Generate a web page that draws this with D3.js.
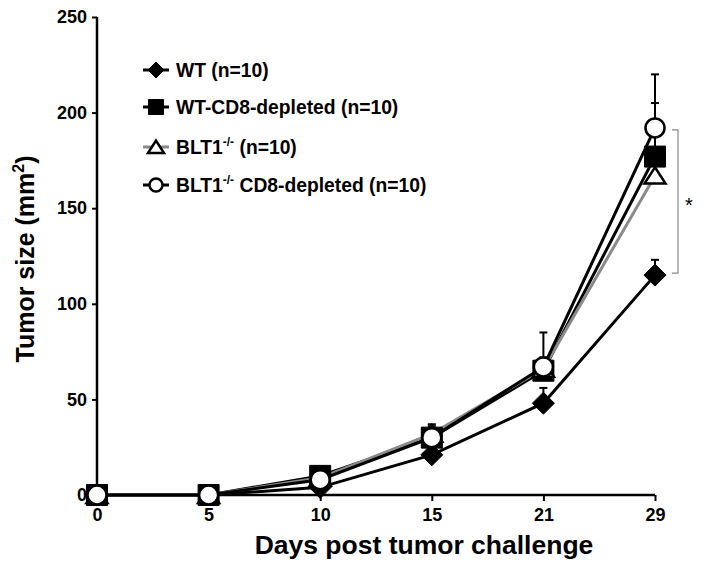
<!DOCTYPE html>
<html><head><meta charset="utf-8">
<script src="https://cdn.jsdelivr.net/npm/d3@7/dist/d3.min.js"></script>
<style>body{margin:0;background:#fff}text{font-family:"Liberation Sans",Arial,sans-serif;font-weight:bold}</style>
</head><body><svg id="c" width="708" height="577"></svg>
<script>
const days = ["0","5","10","15","21","29"];
const yTicks = [0,50,100,150,200,250];
const seriesNames = ["WT", "WT-CD8", "BLT1", "BLT1-CD8"];
const wtVals = [0,0,4,21,48,115];
const wtErr = [0,0,1,3,8,8];
const wtCd8Vals = [0,0,10,30,65,177];
const wtCd8Err = [0,0,2,4,6,28];
const bltVals = [0,0,9,32,66,167];
const bltErr = [0,0,2,4,6,10];
const bltCd8Vals = [0,0,8,30,67,192];
const bltCd8Err = [0,0,2,7,18,28];
const legendLabels = ["WT (n=10)", "WT-CD8-depleted (n=10)", "BLT1", "BLT1"];

const series = [
  {name: seriesNames[0], vals: wtVals, err: wtErr, shape: "diamond", line: "#000", fill: "#000"},
  {name: seriesNames[1], vals: wtCd8Vals, err: wtCd8Err, shape: "square", line: "#000", fill: "#000"},
  {name: seriesNames[2], vals: bltVals, err: bltErr, shape: "triangle", line: "#8a8a8a", fill: "#fff"},
  {name: seriesNames[3], vals: bltCd8Vals, err: bltCd8Err, shape: "circle", line: "#000", fill: "#fff"}
];

const svg = d3.select("#c");
const x = d3.scalePoint().domain(days).range([97, 655]);
const y = d3.scaleLinear().domain([0, 250]).range([495, 17]);

// axes
const yAxis = svg.append("g").attr("transform", "translate(97,0)")
  .call(d3.axisLeft(y).tickValues(yTicks).tickSize(5).tickPadding(5));
const xAxis = svg.append("g").attr("transform", "translate(0,495)")
  .call(d3.axisBottom(x).tickSize(6).tickPadding(7));
[yAxis, xAxis].forEach(a => {
  a.select(".domain").attr("stroke", "#000").attr("stroke-width", 2.5);
  a.selectAll(".tick line").attr("stroke", "#000").attr("stroke-width", 2);
  a.selectAll(".tick text").attr("fill", "#000").style("font-size", "18px")
    .style("font-family", '"Liberation Sans",Arial,sans-serif').style("font-weight", "bold");
});
yAxis.select(".domain").attr("d", "M0,17V495");
xAxis.select(".domain").attr("d", "M97,0H655");

// titles
const yt = svg.append("text").attr("transform", "translate(34,259) rotate(-90)")
  .attr("text-anchor", "middle").style("font-size", "25px");
yt.append("tspan").text("Tumor size (mm");
yt.append("tspan").attr("dy", -10).style("font-size", "16px").text("2");
yt.append("tspan").attr("dy", 10).text(")");
svg.append("text").attr("x", 424).attr("y", 554).attr("text-anchor", "middle")
  .style("font-size", "26.5px").text("Days post tumor challenge");

function shapePath(shape, s) {
  const h = s / 2;
  if (shape === "diamond") return `M0,${-h}L${h},0L0,${h}L${-h},0Z`;
  if (shape === "square") return `M${-h},${-h}H${h}V${h}H${-h}Z`;
  if (shape === "triangle") return `M0,${-h*0.8}L${h},${h*0.75}L${-h},${h*0.75}Z`;
  return null;
}
function drawMarker(g, d, cx, cy, size) {
  if (d.shape === "circle") {
    g.append("circle").attr("cx", cx).attr("cy", cy).attr("r", size / 2)
      .attr("fill", "#fff").attr("stroke", "#000").attr("stroke-width", 2.5);
  } else {
    g.append("path").attr("d", shapePath(d.shape, size))
      .attr("transform", `translate(${cx},${cy})`)
      .attr("fill", d.fill).attr("stroke", "#000").attr("stroke-width", d.shape === "triangle" ? 2.5 : 1);
  }
}

// error bars
series.forEach(d => {
  d.vals.forEach((v, i) => {
    if (!d.err[i]) return;
    const g = svg.append("g");
    g.append("line").attr("x1", x(days[i])).attr("x2", x(days[i]))
      .attr("y1", y(v)).attr("y2", y(v + d.err[i])).attr("stroke", "#000").attr("stroke-width", 2);
    g.append("line").attr("x1", x(days[i]) - 4).attr("x2", x(days[i]) + 4)
      .attr("y1", y(v + d.err[i])).attr("y2", y(v + d.err[i])).attr("stroke", "#000").attr("stroke-width", 2);
  });
});

// lines
const line = d3.line().x((v, i) => x(days[i])).y(v => y(v));
series.forEach(d => {
  svg.append("path").attr("d", line(d.vals)).attr("fill", "none")
    .attr("stroke", d.line).attr("stroke-width", 3);
});
// markers
series.forEach(d => {
  const g = svg.append("g");
  d.vals.forEach((v, i) => drawMarker(g, d, x(days[i]), y(v), d.shape === "circle" ? 19 : (d.shape === "diamond" ? 22 : 21)));
});

// significance bracket
const b = svg.append("g").attr("stroke", "#888").attr("stroke-width", 1.2).attr("fill", "none");
b.append("path").attr("d", `M672,${y(191)}H678V${y(116)}H672`);
svg.append("text").attr("x", 689).attr("y", 212).attr("text-anchor", "middle")
  .style("font-size", "20px").style("font-weight", "normal").text("*");

// legend
const legY = [70, 107, 147, 185];
series.forEach((d, i) => {
  const g = svg.append("g");
  g.append("line").attr("x1", 143).attr("x2", 169).attr("y1", legY[i]).attr("y2", legY[i])
    .attr("stroke", d.line).attr("stroke-width", 3);
  drawMarker(g, d, 156, legY[i], d.shape === "circle" ? 13 : (d.shape === "square" ? 15 : 16));
  const t = g.append("text").attr("x", 176).attr("y", legY[i] + 7).style("font-size", "19.3px");
  if (i < 2) t.text(legendLabels[i]);
  else {
    t.append("tspan").text(legendLabels[i]);
    t.append("tspan").attr("dy", -8).style("font-size", "12px").text("-/-");
    t.append("tspan").attr("dy", 8).text(i === 2 ? " (n=10)" : " CD8-depleted (n=10)");
  }
});
</script></body></html>
